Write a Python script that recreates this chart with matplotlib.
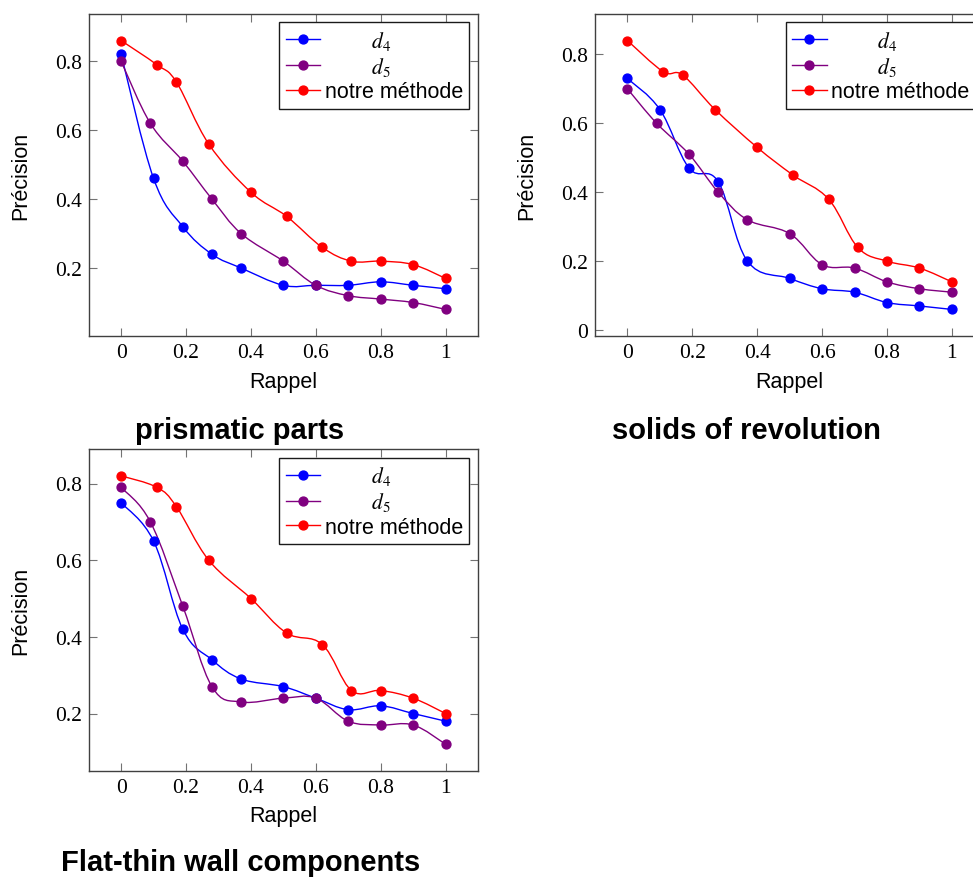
import numpy as np
import matplotlib
matplotlib.use('Agg')
import matplotlib.pyplot as plt
from matplotlib.path import Path
from matplotlib.patches import PathPatch

plt.rcParams['font.family'] = ['Liberation Sans', 'DejaVu Sans']
plt.rcParams['mathtext.fontset'] = 'stix'

# recall positions (x) shared by the curves of each panel
x_d45 = [0, 0.10, 0.19, 0.28, 0.37, 0.50, 0.60, 0.70, 0.80, 0.90, 1.0]
x_d5a = [0, 0.09, 0.19, 0.28, 0.37, 0.50, 0.60, 0.70, 0.80, 0.90, 1.0]
x_ours = [0, 0.11, 0.17, 0.27, 0.40, 0.51, 0.62, 0.71, 0.80, 0.90, 1.0]

# prismatic parts
prism_d4 = [0.82, 0.46, 0.32, 0.24, 0.20, 0.15, 0.15, 0.15, 0.16, 0.15, 0.14]
prism_d5 = [0.80, 0.62, 0.51, 0.40, 0.30, 0.22, 0.15, 0.12, 0.11, 0.10, 0.08]
prism_ours = [0.86, 0.79, 0.74, 0.56, 0.42, 0.35, 0.26, 0.22, 0.22, 0.21, 0.17]

# solids of revolution
rev_d4 = [0.73, 0.64, 0.47, 0.43, 0.20, 0.15, 0.12, 0.11, 0.08, 0.07, 0.06]
rev_d5 = [0.70, 0.60, 0.51, 0.40, 0.32, 0.28, 0.19, 0.18, 0.14, 0.12, 0.11]
rev_ours = [0.84, 0.75, 0.74, 0.64, 0.53, 0.45, 0.38, 0.24, 0.20, 0.18, 0.14]

# flat-thin wall components
flat_d4 = [0.75, 0.65, 0.42, 0.34, 0.29, 0.27, 0.24, 0.21, 0.22, 0.20, 0.18]
flat_d5 = [0.79, 0.70, 0.48, 0.27, 0.23, 0.24, 0.24, 0.18, 0.17, 0.17, 0.12]
flat_ours = [0.82, 0.79, 0.74, 0.60, 0.50, 0.41, 0.38, 0.26, 0.26, 0.24, 0.20]

labels = [r'$\qquad\quad d_4$', r'$\qquad\quad d_5$', 'notre méthode']
colors = ['#0000ff', '#800080', '#ff0000']
panel_titles = ['prismatic parts', 'solids of revolution', 'Flat-thin wall components']

W, H = 973, 878


def smooth_path(xs, ys, tension=0.18):
    """courbe lisse facon pgfplots (bezier cubiques passant par les points)"""
    p = np.column_stack([xs, ys]).astype(float)
    n = len(p)
    verts = [p[0]]
    codes = [Path.MOVETO]
    for i in range(n - 1):
        prev = p[i - 1] if i > 0 else p[i]
        nxt = p[i + 2] if i + 2 < n else p[i + 1]
        c1 = p[i] + tension * (p[i + 1] - prev)
        c2 = p[i + 1] - tension * (nxt - p[i])
        verts += [c1, c2, p[i + 1]]
        codes += [Path.CURVE4] * 3
    return Path(verts, codes)


def draw_panel(ax, series, yticks):
    for (xs, ys), lab, col in zip(series, labels, colors):
        ax.add_patch(PathPatch(smooth_path(xs, ys), fill=False, edgecolor=col,
                               lw=1.0, zorder=2))
        ax.plot(xs, ys, linestyle='None', color=col, marker='o', ms=6.4,
                label=lab, zorder=3)
    # pgfplots : limites elargies de 10%
    all_y = np.concatenate([np.asarray(s[1]) for s in series])
    rng = all_y.max() - all_y.min()
    ax.set_ylim(all_y.min() - 0.1 * rng, all_y.max() + 0.1 * rng)
    ax.set_xlim(-0.1, 1.1)
    ax.set_xticks([0, 0.2, 0.4, 0.6, 0.8, 1])
    ax.set_xticklabels(['0', '0.2', '0.4', '0.6', '0.8', '1'])
    ax.set_yticks(yticks)
    ax.set_yticklabels([('%g' % t) for t in yticks])
    for lbl in ax.get_xticklabels() + ax.get_yticklabels():
        lbl.set_fontfamily('Liberation Serif')
        lbl.set_fontsize(15.5)
    ax.tick_params(direction='in', length=6, width=0.8, color='0.45',
                   top=True, right=True, pad=5)
    for sp in ax.spines.values():
        sp.set_linewidth(1.0)
        sp.set_color('0.25')
    ax.set_xlabel('Rappel', fontsize=15.5, labelpad=6)
    ax.set_ylabel('Précision', fontsize=15.5, labelpad=17)
    handles = [plt.Line2D([], [], color=c, lw=1.0, marker='o', ms=6.4) for c in colors]
    leg = ax.legend(handles, labels, loc='upper right', fontsize=15.5,
                    fancybox=False, framealpha=1, edgecolor='0.1',
                    borderaxespad=0.4, handlelength=1.6, handletextpad=0.2,
                    labelspacing=0.15, borderpad=0.3)
    leg.get_frame().set_linewidth(1.0)


fig = plt.figure(figsize=(W / 100, H / 100), dpi=100)
ax1 = fig.add_axes([88.7 / W, 1 - 337.3 / H, 389.3 / W, 322.6 / H])
ax2 = fig.add_axes([595 / W, 1 - 337.3 / H, 389.3 / W, 322.6 / H])
ax3 = fig.add_axes([88.7 / W, 1 - 772 / H, 389.3 / W, 322 / H])

draw_panel(ax1, [(x_d45, prism_d4), (x_d5a, prism_d5), (x_ours, prism_ours)],
           [0.2, 0.4, 0.6, 0.8])
draw_panel(ax2, [(x_d45, rev_d4), (x_d5a, rev_d5), (x_ours, rev_ours)],
           [0, 0.2, 0.4, 0.6, 0.8])
draw_panel(ax3, [(x_d45, flat_d4), (x_d5a, flat_d5), (x_ours, flat_ours)],
           [0.2, 0.4, 0.6, 0.8])

title_pos = [(240 / W, 1 - 431 / H), (746 / W, 1 - 431 / H), (241 / W, 1 - 863 / H)]
for (tx, ty), t in zip(title_pos, panel_titles):
    fig.text(tx, ty, t, ha='center', va='center', fontsize=21, fontweight='bold')

fig.savefig('out.png', dpi=100)
